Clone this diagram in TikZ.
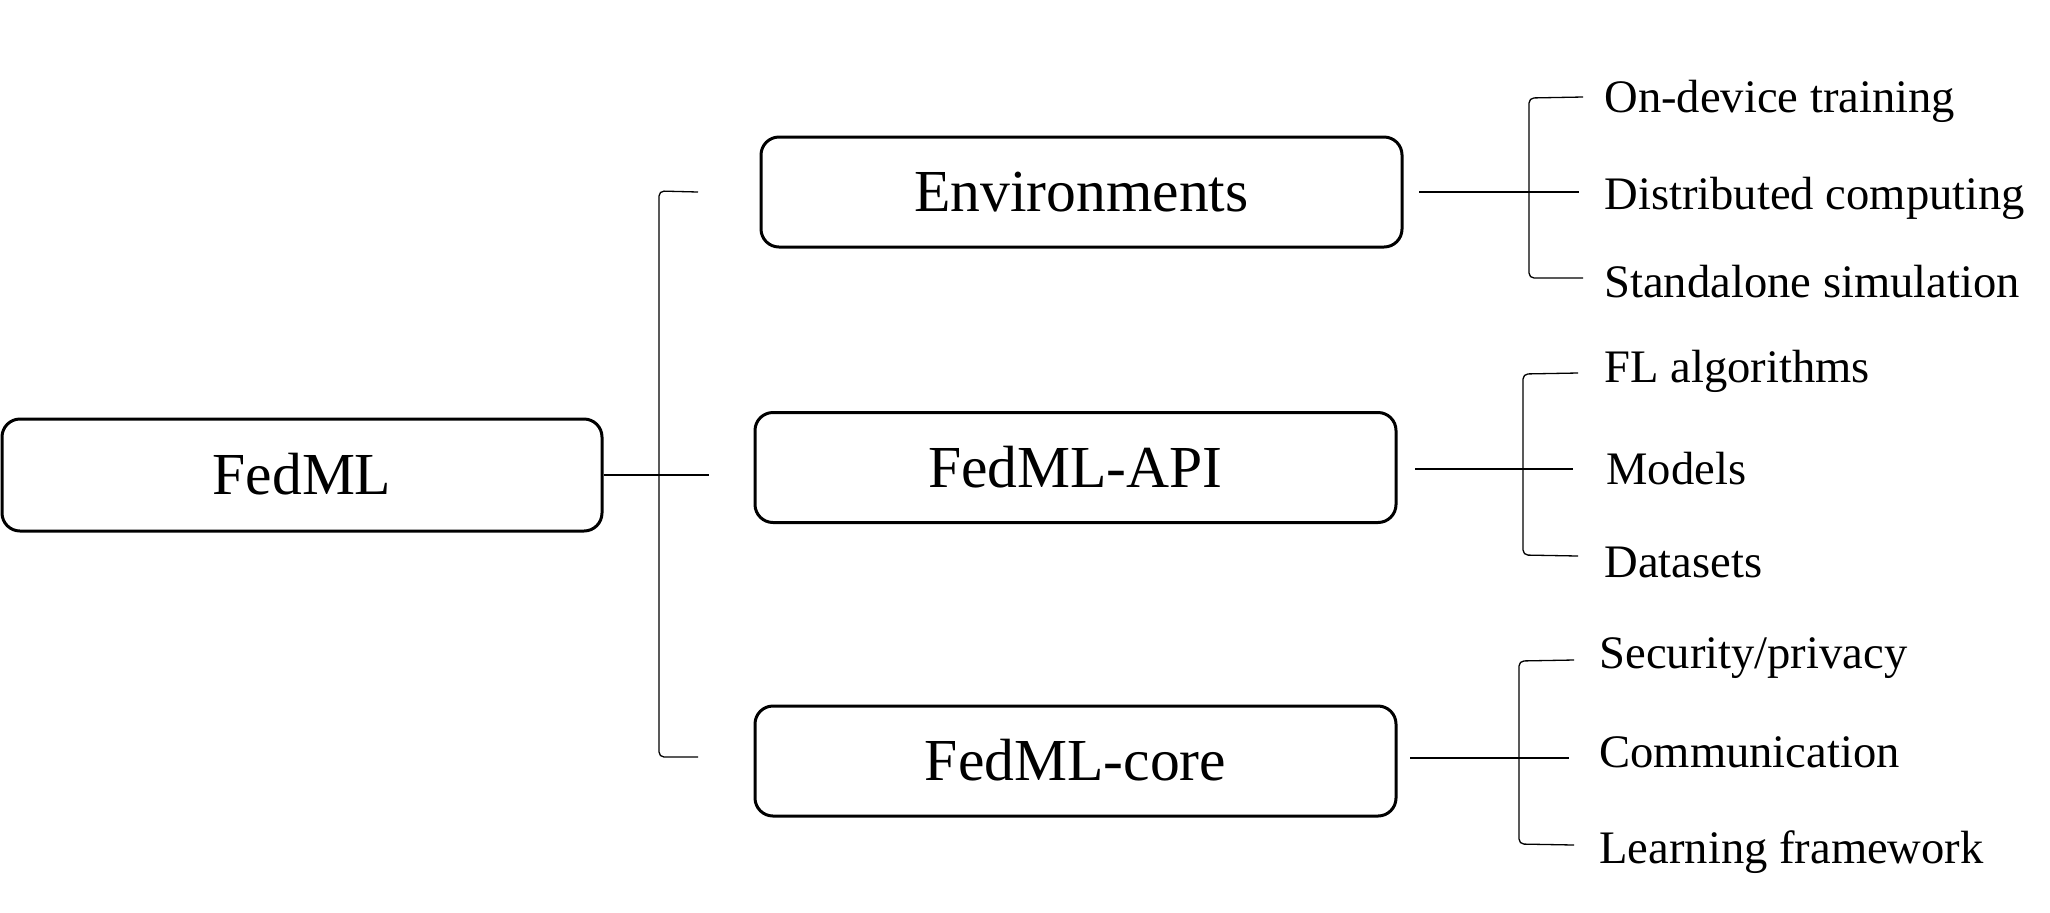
\documentclass[tikz,border=0pt]{standalone}
\usepackage{fontspec}
\setmainfont{Liberation Serif}
\begin{document}
\begin{tikzpicture}[x=0.5pt,y=-0.5pt,
  box/.style={draw, line width=1.5pt, rounded corners=9pt, minimum width=320.5pt, minimum height=55pt, inner sep=0pt, font=\fontsize{29.8}{36}\selectfont, text height=19.7pt, text depth=0pt},
  leaf/.style={anchor=base west, inner sep=0pt, font=\fontsize{23.3}{28}\selectfont},
  conn/.style={line width=0.65pt},
  brk/.style={line width=0.65pt, rounded corners=2.5pt}]
\useasboundingbox (0,0) rectangle (2050,912);
% main boxes
\node[box, minimum width=300pt, minimum height=56pt] (fedml) at (302,475) {FedML};
\node[box] (env) at (1081.5,192) {Environments};
\node[box] (api) at (1075.5,467.5) {FedML-API};
\node[box] (core) at (1075.5,761) {FedML-core};
% main bracket
\coordinate (m0) at (709,475);
\coordinate (mt) at (698,192);
\coordinate (mb) at (698,757);
\draw[conn] (fedml.east) -- (m0);
\draw[brk] (mt) -- (659,191) -- (659,757) -- (mb);
% Environments
\coordinate (e0) at (1419,192);
\coordinate (e1) at (1579,192);
\coordinate (et) at (1583,97);
\coordinate (eb) at (1583,278);
\draw[conn] (e0) -- (e1);
\draw[brk] (et) -- (1529,98) -- (1529,278) -- (eb);
\node[leaf] (e-a) at (1604,112) {On-device training};
\node[leaf] (e-b) at (1604,209) {Distributed computing};
\node[leaf] (e-c) at (1604,297) {Standalone simulation};
% FedML-API
\coordinate (a0) at (1415,469);
\coordinate (a1) at (1573,469);
\coordinate (at) at (1578,373);
\coordinate (ab) at (1578,556);
\draw[conn] (a0) -- (a1);
\draw[brk] (at) -- (1523,374) -- (1523,555) -- (ab);
\node[leaf] (a-a) at (1604,382) {FL algorithms};
\node[leaf] (a-b) at (1606,484) {Models};
\node[leaf] (a-c) at (1604,577) {Datasets};
% FedML-core
\coordinate (c0) at (1410,758);
\coordinate (c1) at (1569,758);
\coordinate (ct) at (1574,660);
\coordinate (cb) at (1574,845);
\draw[conn] (c0) -- (c1);
\draw[brk] (ct) -- (1519,661) -- (1519,844) -- (cb);
\node[leaf] (c-a) at (1599,668) {Security/privacy};
\node[leaf] (c-b) at (1599,767) {Communication};
\node[leaf] (c-c) at (1599,863) {Learning framework};
\end{tikzpicture}
\end{document}
